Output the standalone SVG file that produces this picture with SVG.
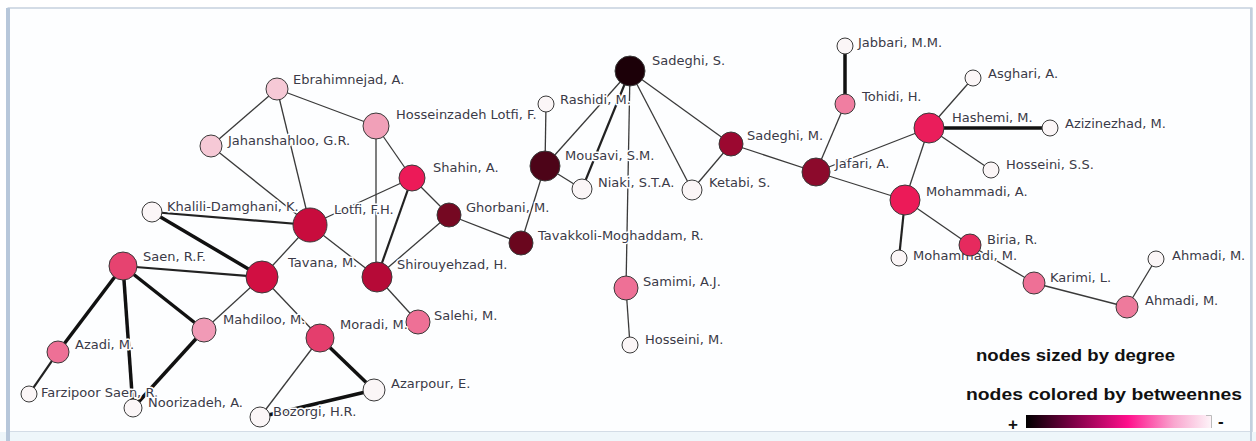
<svg xmlns="http://www.w3.org/2000/svg" width="1256" height="441" viewBox="0 0 1256 441">
<defs>
<style>
.e{stroke:#3a3a3a;stroke-width:1.3;fill:none}
.t{stroke:#111;stroke-width:3.5;fill:none}
.m{stroke:#222;stroke-width:2.2;fill:none}
circle{stroke:#3a3a3a;stroke-width:1}
text{font-family:"DejaVu Sans",sans-serif;font-size:13px;fill:#3a3a48;stroke:#ffffff;stroke-width:3;stroke-linejoin:round;paint-order:stroke}
.lg{font-family:"Liberation Sans",Arial,sans-serif;font-weight:bold;font-size:17px;fill:#111;stroke:none}
.w{fill:#fbf6f7}
</style>
<linearGradient id="grad" x1="0" y1="0" x2="1" y2="0">
<stop offset="0" stop-color="#000000"/>
<stop offset="0.25" stop-color="#7a0045"/>
<stop offset="0.55" stop-color="#ff0f8c"/>
<stop offset="0.8" stop-color="#f9a6cf"/>
<stop offset="1" stop-color="#fdf3f8"/>
</linearGradient>
</defs>
<rect x="0" y="0" width="1256" height="441" fill="#ffffff"/>
<rect x="8" y="8" width="1244" height="424" fill="#fdfeff" stroke="#a9bacd" stroke-width="1"/>
<rect x="0" y="432" width="1256" height="9" fill="#eef6fa"/>
<rect x="6" y="8" width="4" height="433" fill="#b7c7da"/>
<rect x="1250" y="8" width="2" height="433" fill="#c3d0de"/>
<g id="connectors">
<line class="e" x1="277" y1="89" x2="211" y2="146"/>
<line class="e" x1="277" y1="89" x2="310" y2="225"/>
<line class="e" x1="277" y1="89" x2="376" y2="126"/>
<line class="e" x1="211" y1="146" x2="310" y2="225"/>
<line class="e" x1="376" y1="126" x2="412" y2="178"/>
<line class="e" x1="376" y1="126" x2="376" y2="277"/>
<line class="e" x1="412" y1="178" x2="310" y2="225"/>
<line class="m" x1="412" y1="178" x2="377" y2="277"/>
<line class="e" x1="412" y1="178" x2="449" y2="215"/>
<line class="e" x1="449" y1="215" x2="377" y2="277"/>
<line class="e" x1="449" y1="215" x2="521" y2="243"/>
<line class="e" x1="545" y1="166" x2="521" y2="243"/>
<line class="e" x1="545" y1="166" x2="546" y2="104"/>
<line class="e" x1="545" y1="166" x2="582" y2="189"/>
<line class="e" x1="630" y1="71" x2="545" y2="166"/>
<line class="m" x1="630" y1="71" x2="582" y2="189"/>
<line class="e" x1="630" y1="71" x2="626" y2="288"/>
<line class="e" x1="626" y1="288" x2="630" y2="345"/>
<line class="e" x1="630" y1="71" x2="692" y2="190"/>
<line class="e" x1="630" y1="71" x2="731" y2="144"/>
<line class="e" x1="731" y1="144" x2="692" y2="190"/>
<line class="e" x1="731" y1="144" x2="816" y2="172"/>
<line class="e" x1="816" y1="172" x2="845" y2="104"/>
<line class="t" x1="845" y1="104" x2="845" y2="46"/>
<line class="e" x1="816" y1="172" x2="929" y2="128"/>
<line class="e" x1="816" y1="172" x2="905" y2="200"/>
<line class="e" x1="929" y1="128" x2="973" y2="78"/>
<line class="t" x1="929" y1="128" x2="1050" y2="128"/>
<line class="e" x1="929" y1="128" x2="991" y2="170"/>
<line class="e" x1="929" y1="128" x2="905" y2="200"/>
<line class="m" x1="905" y1="200" x2="899" y2="258"/>
<line class="e" x1="905" y1="200" x2="970" y2="245"/>
<line class="e" x1="970" y1="245" x2="1034" y2="283"/>
<line class="e" x1="1034" y1="283" x2="1127" y2="307"/>
<line class="e" x1="1127" y1="307" x2="1156" y2="259"/>
<line class="m" x1="152" y1="212" x2="310" y2="225"/>
<line class="t" x1="152" y1="212" x2="262" y2="277"/>
<line class="e" x1="310" y1="225" x2="262" y2="277"/>
<line class="e" x1="310" y1="225" x2="377" y2="277"/>
<line class="m" x1="123" y1="266" x2="262" y2="277"/>
<line class="t" x1="123" y1="266" x2="58" y2="352"/>
<line class="t" x1="123" y1="266" x2="133" y2="408"/>
<line class="t" x1="123" y1="266" x2="204" y2="330"/>
<line class="m" x1="58" y1="352" x2="29" y2="394"/>
<line class="t" x1="204" y1="330" x2="133" y2="408"/>
<line class="e" x1="262" y1="277" x2="204" y2="330"/>
<line class="e" x1="262" y1="277" x2="320" y2="338"/>
<line class="e" x1="377" y1="277" x2="418" y2="322"/>
<line class="e" x1="320" y1="338" x2="260" y2="417"/>
<line class="t" x1="320" y1="338" x2="374" y2="390"/>
<line class="t" x1="374" y1="390" x2="260" y2="417"/>
</g>
<g id="n-ebrahimnejad"><circle cx="277" cy="89" r="11" fill="#f6c9d6"/><text x="293" y="84">Ebrahimnejad, A.</text></g>
<g id="n-jahanshahloo"><circle cx="211" cy="146" r="11" fill="#f6c9d6"/><text x="228" y="145">Jahanshahloo, G.R.</text></g>
<g id="n-hosseinzadeh"><circle cx="376" cy="126" r="13" fill="#f1a0b8"/><text x="396" y="119">Hosseinzadeh Lotfi, F.</text></g>
<g id="n-shahin"><circle cx="412" cy="178" r="13" fill="#ec1a58"/><text x="433" y="172">Shahin, A.</text></g>
<g id="n-lotfi"><circle cx="310" cy="225" r="17" fill="#c80c3d"/><text x="334" y="214">Lotfi, F.H.</text></g>
<g id="n-khalili"><circle cx="152" cy="212" r="10" class="w"/><text x="167" y="211">Khalili-Damghani, K.</text></g>
<g id="n-tavana"><circle cx="262" cy="277" r="16" fill="#d10f42"/><text x="288" y="267">Tavana, M.</text></g>
<g id="n-saen"><circle cx="123" cy="266" r="14" fill="#e64370"/><text x="143" y="261">Saen, R.F.</text></g>
<g id="n-shirouyehzad"><circle cx="377" cy="277" r="15" fill="#b60a37"/><text x="397" y="269">Shirouyehzad, H.</text></g>
<g id="n-ghorbani"><circle cx="449" cy="215" r="12" fill="#750822"/><text x="466" y="212">Ghorbani, M.</text></g>
<g id="n-tavakkoli"><circle cx="521" cy="243" r="12" fill="#6a061e"/><text x="538" y="240">Tavakkoli-Moghaddam, R.</text></g>
<g id="n-mousavi"><circle cx="545" cy="166" r="15" fill="#4d0418"/><text x="565" y="160">Mousavi, S.M.</text></g>
<g id="n-rashidi"><circle cx="546" cy="104" r="8" class="w"/><text x="560" y="104">Rashidi, M.</text></g>
<g id="n-niaki"><circle cx="582" cy="189" r="10" class="w"/><text x="598" y="187">Niaki, S.T.A.</text></g>
<g id="n-sadeghi-s"><circle cx="630" cy="71" r="15" fill="#1c0008"/><text x="652" y="65">Sadeghi, S.</text></g>
<g id="n-ketabi"><circle cx="692" cy="190" r="10" class="w"/><text x="709" y="187">Ketabi, S.</text></g>
<g id="n-sadeghi-m"><circle cx="731" cy="144" r="12" fill="#9b0830"/><text x="747" y="140">Sadeghi, M.</text></g>
<g id="n-jafari"><circle cx="816" cy="172" r="14" fill="#8c0a2c"/><text x="835" y="168">Jafari, A.</text></g>
<g id="n-tohidi"><circle cx="845" cy="104" r="10" fill="#f07ea1"/><text x="862" y="101">Tohidi, H.</text></g>
<g id="n-jabbari"><circle cx="845" cy="46" r="8" class="w"/><text x="858" y="47">Jabbari, M.M.</text></g>
<g id="n-asghari"><circle cx="973" cy="78" r="8" class="w"/><text x="988" y="78">Asghari, A.</text></g>
<g id="n-hashemi"><circle cx="929" cy="128" r="15" fill="#ea1d5b"/><text x="952" y="122">Hashemi, M.</text></g>
<g id="n-azizinezhad"><circle cx="1050" cy="128" r="8" class="w"/><text x="1065" y="128">Azizinezhad, M.</text></g>
<g id="n-hosseini-ss"><circle cx="991" cy="170" r="8" class="w"/><text x="1006" y="169">Hosseini, S.S.</text></g>
<g id="n-mohammadi-a"><circle cx="905" cy="200" r="15" fill="#ec1a58"/><text x="926" y="196">Mohammadi, A.</text></g>
<g id="n-mohammadi-m"><circle cx="899" cy="258" r="8" class="w"/><text x="913" y="260">Mohammadi, M.</text></g>
<g id="n-biria"><circle cx="970" cy="245" r="11" fill="#e62a5e"/><text x="987" y="244">Biria, R.</text></g>
<g id="n-karimi"><circle cx="1034" cy="283" r="11" fill="#ee7096"/><text x="1050" y="282">Karimi, L.</text></g>
<g id="n-ahmadi-2"><circle cx="1127" cy="307" r="11" fill="#ee7a9c"/><text x="1145" y="305">Ahmadi, M.</text></g>
<g id="n-ahmadi-1"><circle cx="1156" cy="259" r="8" class="w"/><text x="1172" y="260">Ahmadi, M.</text></g>
<g id="n-samimi"><circle cx="626" cy="288" r="12" fill="#ee7096"/><text x="643" y="286">Samimi, A.J.</text></g>
<g id="n-hosseini-m"><circle cx="630" cy="345" r="8" class="w"/><text x="645" y="344">Hosseini, M.</text></g>
<g id="n-salehi"><circle cx="418" cy="322" r="12" fill="#ee7096"/><text x="434" y="320">Salehi, M.</text></g>
<g id="n-moradi"><circle cx="320" cy="338" r="14" fill="#e43e6d"/><text x="340" y="329">Moradi, M.</text></g>
<g id="n-mahdiloo"><circle cx="204" cy="330" r="12" fill="#f19ab6"/><text x="223" y="324">Mahdiloo, M.</text></g>
<g id="n-azadi"><circle cx="58" cy="352" r="11" fill="#ee7096"/><text x="75" y="349">Azadi, M.</text></g>
<g id="n-farzipoor"><circle cx="29" cy="394" r="8" class="w"/><text x="41" y="397">Farzipoor Saen, R.</text></g>
<g id="n-noorizadeh"><circle cx="133" cy="408" r="9" class="w"/><text x="148" y="407">Noorizadeh, A.</text></g>
<g id="n-bozorgi"><circle cx="260" cy="417" r="10" class="w"/><text x="273" y="416">Bozorgi, H.R.</text></g>
<g id="n-azarpour"><circle cx="374" cy="390" r="11" class="w"/><text x="391" y="388">Azarpour, E.</text></g>
<g id="legend">
<text class="lg" x="976" y="361" textLength="199" lengthAdjust="spacingAndGlyphs">nodes sized by degree</text>
<text class="lg" x="966" y="400" textLength="276" lengthAdjust="spacingAndGlyphs">nodes colored by betweennes</text>
<text class="lg" x="1008" y="430">+</text>
<rect x="1026" y="415" width="185" height="13" fill="url(#grad)"/>
<path d="M1206 415.5 H1211.5 V428" fill="none" stroke="#bbb" stroke-width="1"/>
<text class="lg" x="1218" y="427">-</text>
</g>
</svg>
